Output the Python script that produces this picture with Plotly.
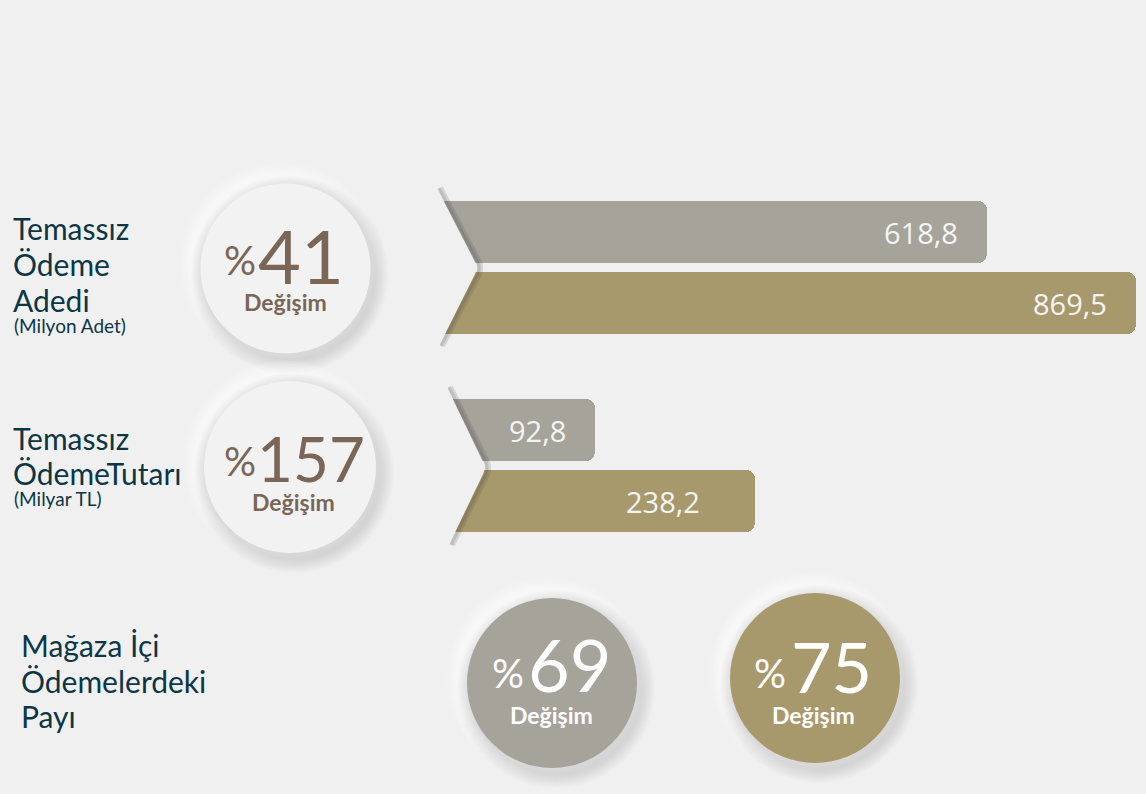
import plotly.graph_objects as go

W, H = 1146, 794
BG = "#f0f0f0"
GRAY = "#a6a39b"
GOLD = "#a8996d"
BROWN = "#7a6656"
NAVY = "#0c3646"

# ---- data ----
group1_values = [618.8, 869.5]      # Temassız Ödeme Adedi (Milyon Adet)
group2_values = [92.8, 238.2]       # Temassız Ödeme Tutarı (Milyar TL)
group1_change = "41"
group2_change = "157"
share_values = ["69", "75"]
bar_colors = [GRAY, GOLD]
group1_label = ["Temassız", "Ödeme", "Adedi"]
group1_unit = "(Milyon Adet)"
group2_label = ["Temassız", "ÖdemeTutarı"]
group2_unit = "(Milyar TL)"
group3_label = ["Mağaza İçi", "Ödemelerdeki", "Payı"]
change_word = "Değişim"

def fmt(v):
    return f"{v:.1f}".replace(".", ",")

# ---- axis calibration (pixel anchors of each group's scale) ----
def axis_range(v_a, p_a, v_b, p_b):
    k = (p_b - p_a) / (v_b - v_a)
    c = p_a - k * v_a
    return [(-c) / k, (W - c) / k], k, c

g1_range, k1, c1 = axis_range(group1_values[0], 987, group1_values[1], 1136)
g2_range, k2, c2 = axis_range(group2_values[0], 595, group2_values[1], 755)
g1_base = (436 - c1) / k1
g2_base = (446 - c2) / k2

bar_h = 62
g1_y = [232, 303]
g2_y = [430, 501]

fig = go.Figure()

fig.add_trace(go.Bar(
    orientation="h", y=g1_y, x=[v - g1_base for v in group1_values], base=g1_base,
    width=bar_h, marker=dict(color=bar_colors, cornerradius=9, line=dict(width=0)),
    xaxis="x2", yaxis="y", hoverinfo="skip", showlegend=False))
fig.add_trace(go.Bar(
    orientation="h", y=g2_y, x=[v - g2_base for v in group2_values], base=g2_base,
    width=bar_h, marker=dict(color=bar_colors, cornerradius=9, line=dict(width=0)),
    xaxis="x3", yaxis="y", hoverinfo="skip", showlegend=False))

shapes = []
annotations = []

# chevrons covering the left ends of bars
def chevron(xt, yt, xp, yp, xb, yb):
    shapes.append(dict(type="path", xref="x", yref="y",
                       path=f"M {xt+3},{yt} L {xp+2},{yp-6} Q {xp+4},{yp} {xp+2},{yp+6} L {xb+3},{yb}",
                       line=dict(color="rgba(60,60,60,0.16)", width=6), layer="above"))
    shapes.append(dict(type="path", xref="x", yref="y",
                       path=f"M {xt+2},{yt} L {xp+1},{yp-6} Q {xp+3},{yp} {xp+1},{yp+6} L {xb+2},{yb}",
                       line=dict(color="rgba(60,60,60,0.14)", width=3), layer="above"))
    shapes.append(dict(type="path", xref="x", yref="y",
                       path=f"M {xt-14},{yt} L {xt},{yt} L {xp-2},{yp-6} Q {xp+1},{yp} {xp-2},{yp+6} L {xb},{yb} L {xb-14},{yb} Z",
                       fillcolor=BG, line=dict(width=0), layer="above"))

chevron(437, 188, 477, 268, 439, 346)
chevron(447, 387, 485, 468, 449, 545)

# circles with soft neumorphic shadows
def circle(cx, cy, r, fill):
    for i in range(10, 0, -1):
        rr = r + i * 1.6
        shapes.append(dict(type="circle", xref="x", yref="y",
                           x0=cx - rr - 5, x1=cx + rr - 5, y0=cy - rr - 5, y1=cy + rr - 5,
                           fillcolor="rgba(255,255,255,0.10)", line=dict(width=0), layer="below"))
    for i in range(10, 0, -1):
        rr = r + i * 1.4
        shapes.append(dict(type="circle", xref="x", yref="y",
                           x0=cx - rr + 4, x1=cx + rr + 4, y0=cy - rr + 6, y1=cy + rr + 6,
                           fillcolor="rgba(0,0,0,0.011)", line=dict(width=0), layer="below"))
    shapes.append(dict(type="circle", xref="x", yref="y",
                       x0=cx - r, x1=cx + r, y0=cy - r, y1=cy + r,
                       fillcolor=fill, line=dict(width=0), layer="below"))

circle(285.5, 268.5, 85, "#f2f2f2")
circle(290, 467, 86, "#f2f2f2")
circle(552, 683, 85, GRAY)
circle(815, 678, 85, GOLD)

def txt(x, y, s, size, color, anchor="left", family="Lato", xref="x"):
    annotations.append(dict(x=x, y=y, xref=xref, yref="y", text=s, showarrow=False,
                            xanchor=anchor, yanchor="middle",
                            font=dict(family=family, size=size, color=color)))

# left labels
for s, y in zip(group1_label, [228, 264, 300]):
    txt(11, y, s, 30, NAVY)
txt(12, 325, group1_unit, 19, NAVY)
for s, y in zip(group2_label, [438, 473]):
    txt(11, y, s, 30, NAVY)
txt(12, 498, group2_unit, 19, NAVY)
for s, y in zip(group3_label, [645, 681, 716]):
    txt(19, y, s, 30, NAVY)

# circle texts
def change(xp, xn, ybig, ypct, yword, xword, value, size, color, pct_size=40):
    txt(xp, ypct, "%", pct_size, color)
    txt(xn, ybig, value, size, color)
    txt(xword, yword, f"<b>{change_word}</b>", 23, color, anchor="center")

change(222, 256, 255, 260, 302, 285.5, group1_change, 74, BROWN)
change(222, 255, 458, 461, 502, 293, group2_change, 62, BROWN)
change(490, 526, 664, 673, 715, 551, share_values[0], 72, "#ffffff")
change(752, 789, 666, 673, 715, 813, share_values[1], 70, "#ffffff")

# bar value labels
for v, y, sh in zip(group1_values, g1_y, [-27, -27]):
    annotations.append(dict(x=v, y=y, xref="x2", yref="y", text=fmt(v), showarrow=False,
                            xanchor="right", yanchor="middle", xshift=sh,
                            font=dict(family="Open Sans", size=29, color="#f4f4f4")))
for v, y, sh in zip(group2_values, g2_y, [-27, -53]):
    annotations.append(dict(x=v, y=y, xref="x3", yref="y", text=fmt(v), showarrow=False,
                            xanchor="right", yanchor="middle", xshift=sh,
                            font=dict(family="Open Sans", size=29, color="#f4f4f4")))

fig.update_layout(
    width=W, height=H, margin=dict(l=0, r=0, t=0, b=0),
    paper_bgcolor=BG, plot_bgcolor=BG,
    xaxis=dict(range=[0, W], visible=False, fixedrange=True),
    xaxis2=dict(range=g1_range, overlaying="x", visible=False, fixedrange=True),
    xaxis3=dict(range=g2_range, overlaying="x", visible=False, fixedrange=True),
    yaxis=dict(range=[H, 0], visible=False, fixedrange=True),
    shapes=shapes, annotations=annotations, bargap=0, showlegend=False,
)

fig.write_html("out.html", config={"displayModeBar": False},
               post_script="document.body.style.margin='0';document.body.style.overflow='hidden';document.body.style.background='#f0f0f0';")
